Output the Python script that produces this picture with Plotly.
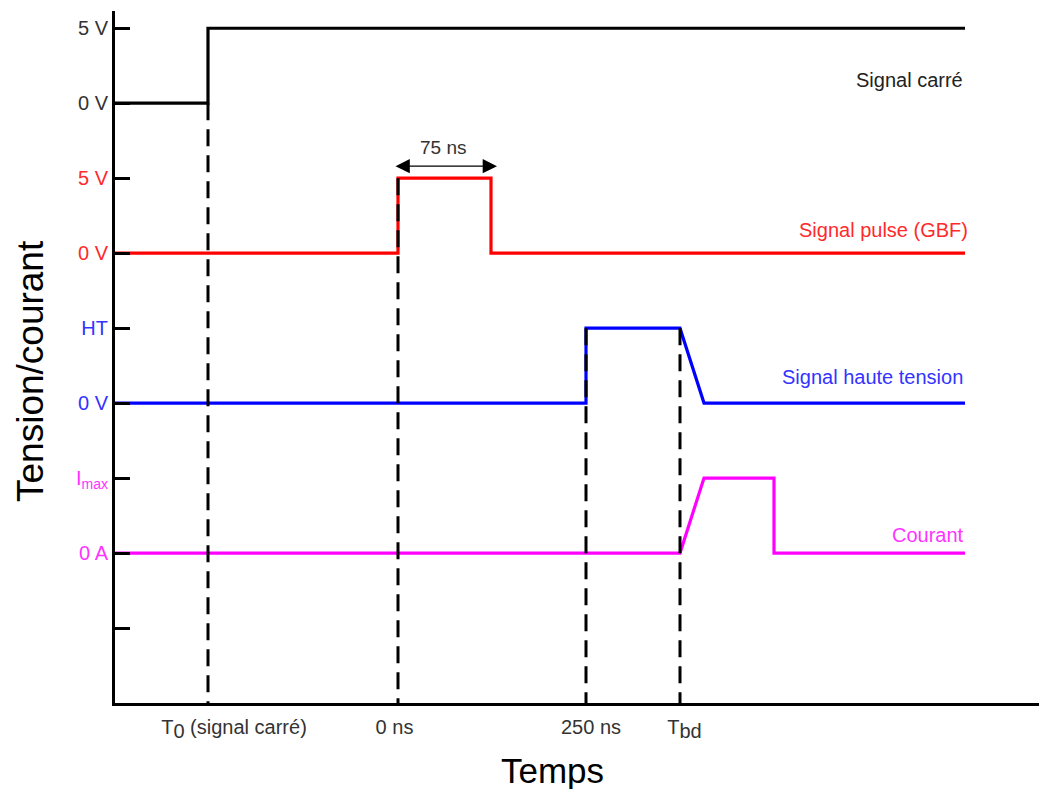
import plotly.graph_objects as go

# ---- schematic data (arbitrary time units, level units) ----
carre_x = [0, 9.3, 9.3, 85.0]
carre_y = [8, 8, 9, 9]

pulse_x = [0, 28.3, 28.3, 37.6, 37.6, 85.0]
pulse_y = [6, 6, 7, 7, 6, 6]

ht_x = [0, 47.1, 47.1, 56.5, 58.9, 85.0]
ht_y = [4, 4, 5, 5, 4, 4]

courant_x = [0, 56.5, 58.9, 65.9, 65.9, 85.0]
courant_y = [2, 2, 3, 3, 2, 2]

marker_x = [9.3, 28.3, 47.1, 56.5]
marker_top = [8, 7, 5, 5]

y_tickvals = [1, 2, 3, 4, 5, 6, 7, 8, 9]
y_ticklabels = ["", "0 A", "I<sub>max</sub>", "0 V", "HT", "0 V", "5 V", "0 V", "5 V"]
y_tickcolors = ["#333333", "#ff33ff", "#ff33ff", "#3333ff", "#3333ff",
                "#ff2a2a", "#ff2a2a", "#333333", "#333333"]

x_tickvals = [11.9, 27.95, 47.6, 56.95]
x_ticklabels = ['T<sub><span style="font-size:20px">0</span></sub> (signal carré)',
                "0 ns", "250 ns",
                'T<sub><span style="font-size:20px">bd</span></sub>']

FONT = "Liberation Sans, Arial, sans-serif"

fig = go.Figure()

signals = [
    (carre_x, carre_y, "#000000"),
    (pulse_x, pulse_y, "#ff0000"),
    (ht_x, ht_y, "#0000ff"),
    (courant_x, courant_y, "#ff00ff"),
]
for xs, ys, col in signals:
    fig.add_trace(go.Scatter(x=xs, y=ys, mode="lines",
                             line=dict(color=col, width=3.2),
                             hoverinfo="skip", showlegend=False))

for mx, mt in zip(marker_x, marker_top):
    fig.add_trace(go.Scatter(x=[mx, mx], y=[mt, 0], mode="lines",
                             line=dict(color="#000000", width=3, dash="17px,9px"),
                             hoverinfo="skip", showlegend=False))

y_ticktext = [f'<span style="color:{c}">{t}</span>' if t else ""
              for t, c in zip(y_ticklabels, y_tickcolors)]

annotations = [
    dict(x=85.0, y=8.31, text="Signal carré", font=dict(color="#222222", size=20)),
    dict(x=85.5, y=6.31, text="Signal pulse (GBF)", font=dict(color="#ff2a2a", size=20)),
    dict(x=85.0, y=4.35, text="Signal haute tension", font=dict(color="#3333ff", size=20)),
    dict(x=85.1, y=2.24, text="Courant", font=dict(color="#ff33ff", size=20)),
]
for a in annotations:
    a.update(xref="x", yref="y", xanchor="right", yanchor="middle", showarrow=False)

# 75 ns double arrow
annotations.append(dict(x=38.2, y=7.16, ax=27.9, ay=7.16, xref="x", yref="y",
                        axref="x", ayref="y", text="", showarrow=True,
                        arrowhead=2, startarrowhead=2, arrowside="end+start",
                        arrowsize=2.2, startarrowsize=2.2, arrowwidth=1.3,
                        arrowcolor="#000000"))
annotations.append(dict(x=32.8, y=7.41, xref="x", yref="y", text="75 ns",
                        showarrow=False, font=dict(color="#333333", size=19),
                        xanchor="center", yanchor="middle"))

# axis titles
annotations.append(dict(x=(552 - 115) / 932, y=(703 - 770) / 692, xref="paper", yref="paper",
                        text="Temps", showarrow=False, font=dict(size=35, color="#000000"),
                        xanchor="center", yanchor="middle"))
annotations.append(dict(x=(30 - 115) / 932, y=(703 - 371) / 692, xref="paper", yref="paper",
                        text="Tension/courant", showarrow=False, textangle=-90,
                        font=dict(size=37, color="#000000"),
                        xanchor="center", yanchor="middle"))

# page body has an 8px margin: compensate so the plot area lands at x=115..1047, y=11..703
fig.update_layout(
    width=1039, height=781,
    margin=dict(l=107, r=0, t=3, b=86),
    paper_bgcolor="white", plot_bgcolor="white",
    font=dict(family=FONT, color="#333333"),
    showlegend=False,
    annotations=annotations,
    xaxis=dict(range=[0, 93.2], showgrid=False, zeroline=False,
               showline=True, linecolor="#000000", linewidth=3,
               tickvals=x_tickvals, ticktext=x_ticklabels, ticks="",
               ticklabelstandoff=4,
               tickfont=dict(size=20, color="#333333"), fixedrange=True),
    yaxis=dict(range=[0, 9.23], showgrid=False, zeroline=False,
               showline=True, linecolor="#000000", linewidth=3,
               tickvals=y_tickvals, ticktext=y_ticktext, ticks="inside",
               ticklen=15, tickwidth=2.5, tickcolor="#000000",
               ticklabelstandoff=0,
               tickfont=dict(size=20, color="#333333"), fixedrange=True),
)

fig.write_html("out.html")
